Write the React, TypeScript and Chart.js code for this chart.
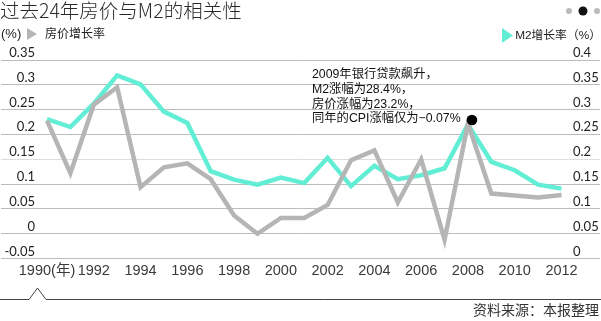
import React, { useEffect, useRef } from "react";
import { Chart, registerables } from "chart.js";

Chart.register(...registerables);

const years = [1990, 1991, 1992, 1993, 1994, 1995, 1996, 1997, 1998, 1999, 2000, 2001, 2002, 2003, 2004, 2005, 2006, 2007, 2008, 2009, 2010, 2011, 2012];
const housePrice = [0.228, 0.122, 0.26, 0.295, 0.094, 0.134, 0.142, 0.11, 0.037, 0.0, 0.032, 0.032, 0.058, 0.148, 0.168, 0.063, 0.15, -0.012, 0.222, 0.081, 0.077, 0.073, 0.078];
const m2Growth = [0.281, 0.265, 0.312, 0.369, 0.351, 0.296, 0.273, 0.176, 0.159, 0.149, 0.163, 0.152, 0.203, 0.146, 0.187, 0.16, 0.168, 0.182, 0.27, 0.195, 0.178, 0.149, 0.141];
const xTickYears = [1990, 1992, 1994, 1996, 1998, 2000, 2002, 2004, 2006, 2008, 2010, 2012];
const leftTicks = [-0.05, 0, 0.05, 0.1, 0.15, 0.2, 0.25, 0.3, 0.35];
const leftTickLabels = ["-0.05", "0", "0.05", "0.1", "0.15", "0.2", "0.25", "0.3", "0.35"];
const rightTicks = [0, 0.05, 0.1, 0.15, 0.2, 0.25, 0.3, 0.35, 0.4];
const rightTickLabels = ["0", "0.05", "0.1", "0.15", "0.2", "0.25", "0.3", "0.35", "0.4"];

const titleText = "过去24年房价与M2的相关性";
const leftLegend = "房价增长率";
const rightLegend = "M2增长率（%）";
const unitText = "(%)";
const annotationLines = ["2009年银行贷款飙升，", "M2涨幅为28.4%，", "房价涨幅为23.2%，", "同年的CPI涨幅仅为−0.07%"];
const highlightYear = 2008;
const sourceText = "资料来源：本报整理";

const GRAY = "#b5b5b5";
const TEAL = "#62eed5";
const CJK = '"Liberation Sans", "Noto Sans CJK SC", sans-serif';

const overlayPlugin = {
  id: "overlay",
  afterDraw(chart: any) {
    const ctx = chart.ctx as CanvasRenderingContext2D;
    const yL = chart.scales.y;
    const yR = chart.scales.y1;
    const x = chart.scales.x;
    ctx.save();

    // title
    ctx.fillStyle = "#2a2a2a";
    ctx.font = '300 19.5px "Noto Sans CJK SC", sans-serif';
    ctx.textAlign = "left";
    ctx.textBaseline = "middle";
    ctx.fillText(titleText, 0, 11);

    // page dots
    const dot = (cx: number, cy: number, r: number, c: string) => {
      ctx.beginPath();
      ctx.arc(cx, cy, r, 0, Math.PI * 2);
      ctx.fillStyle = c;
      ctx.fill();
    };
    dot(569, 11, 3, "#bbbbbb");
    dot(583, 11, 4.5, "#111111");
    dot(597, 11, 3, "#bbbbbb");

    // legends
    ctx.fillStyle = "#222";
    ctx.font = "13px " + CJK;
    ctx.textBaseline = "middle";
    ctx.fillText(unitText, 1, 34);
    ctx.beginPath();
    ctx.moveTo(27, 28);
    ctx.lineTo(37, 34);
    ctx.lineTo(27, 40);
    ctx.closePath();
    ctx.fillStyle = GRAY;
    ctx.fill();
    ctx.fillStyle = "#222";
    ctx.font = "12px " + CJK;
    ctx.fillText(leftLegend, 45, 34.5);

    ctx.beginPath();
    ctx.moveTo(502, 28);
    ctx.lineTo(513, 35.5);
    ctx.lineTo(502, 43);
    ctx.closePath();
    ctx.fillStyle = TEAL;
    ctx.fill();
    ctx.fillStyle = "#222";
    ctx.font = "11.8px " + CJK;
    ctx.textAlign = "right";
    ctx.fillText(rightLegend, 601, 35.5);

    // axis tick labels, sitting on their grid lines
    ctx.font = '13px Lato, "DejaVu Sans", sans-serif';
    ctx.textBaseline = "alphabetic";
    ctx.fillStyle = "#222";
    ctx.textAlign = "right";
    leftTicks.forEach((v, i) => {
      ctx.fillText(leftTickLabels[i], 35, yL.getPixelForValue(v) - 3);
    });
    ctx.textAlign = "left";
    rightTicks.forEach((v, i) => {
      ctx.fillText(rightTickLabels[i], 573, yR.getPixelForValue(v) - 3);
    });

    // annotation
    const idx = years.indexOf(highlightYear);
    const px = x.getPixelForValue(highlightYear);
    const py = yR.getPixelForValue(m2Growth[idx]);
    dot(px + 4, py - 4.5, 5.3, "#000");
    ctx.fillStyle = "#111";
    ctx.font = "12.3px " + CJK;
    ctx.textAlign = "left";
    ctx.textBaseline = "middle";
    annotationLines.forEach((t, i) => {
      ctx.fillText(t, 312, 75 + i * 14.7);
    });

    // bottom rule with caret
    ctx.strokeStyle = "#444";
    ctx.lineWidth = 1;
    const ly = 299.5;
    const cx = x.getPixelForValue(years[0]) - 9.5;
    ctx.beginPath();
    ctx.moveTo(0, ly);
    ctx.lineTo(cx - 8.5, ly);
    ctx.lineTo(cx, ly - 11.5);
    ctx.lineTo(cx + 8.5, ly);
    ctx.lineTo(601, ly);
    ctx.stroke();

    // source
    ctx.fillStyle = "#333";
    ctx.font = "14px " + CJK;
    ctx.textAlign = "right";
    ctx.textBaseline = "middle";
    ctx.fillText(sourceText, 599, 311.5);
    ctx.restore();
  },
};

export default function App() {
  const ref = useRef<HTMLCanvasElement | null>(null);
  useEffect(() => {
    document.body.style.margin = "0";
    const canvas = ref.current;
    if (!canvas) return;
    const chart = new Chart(canvas, {
      type: "line",
      data: {
        datasets: [
          {
            label: leftLegend,
            data: years.map((y, i) => ({ x: y, y: housePrice[i] })),
            borderColor: GRAY,
            backgroundColor: GRAY,
            borderWidth: 4.5,
            borderJoinStyle: "miter",
            pointRadius: 0,
            tension: 0,
            yAxisID: "y",
          },
          {
            label: rightLegend,
            data: years.map((y, i) => ({ x: y, y: m2Growth[i] })),
            borderColor: TEAL,
            backgroundColor: TEAL,
            borderWidth: 4.5,
            borderJoinStyle: "miter",
            pointRadius: 0,
            tension: 0,
            yAxisID: "y1",
          },
        ],
      },
      options: {
        animation: false,
        responsive: false,
        maintainAspectRatio: false,
        layout: { padding: { top: 60, left: 1, right: 1, bottom: 37 } },
        plugins: { legend: { display: false }, tooltip: { enabled: false }, title: { display: false } },
        scales: {
          x: {
            type: "linear",
            min: 1988.033,
            max: 2013.646,
            grid: { display: false, drawTicks: false },
            border: { display: false },
            afterBuildTicks: (s: any) => {
              s.ticks = xTickYears.map((v) => ({ value: v }));
            },
            ticks: {
              autoSkip: false,
              maxRotation: 0,
              padding: 4,
              color: "#3a3a3a",
              font: { family: '"Liberation Sans", "Noto Sans CJK SC", sans-serif', size: 14.5 },
              callback: (v: any) => (v === 1990 ? "1990(年)" : String(v)),
            },
          },
          y: {
            position: "left",
            min: -0.05,
            max: 0.35,
            afterBuildTicks: (s: any) => {
              s.ticks = leftTicks.map((v) => ({ value: v }));
            },
            grid: {
              drawTicks: false,
              lineWidth: 1,
              color: (c: any) => (c.tick && Math.abs(c.tick.value - 0.15) < 1e-6 ? "#dddddd" : "#bcbcbc"),
            },
            border: { display: false },
            ticks: { display: false },
          },
          y1: {
            position: "right",
            min: 0,
            max: 0.4,
            display: false,
          },
        },
      },
      plugins: [overlayPlugin],
    } as any);
    return () => chart.destroy();
  }, []);
  return (
    <div style={{ width: 601, height: 321 }}>
      <canvas ref={ref} width={601} height={321} style={{ display: "block" }} />
    </div>
  );
}
